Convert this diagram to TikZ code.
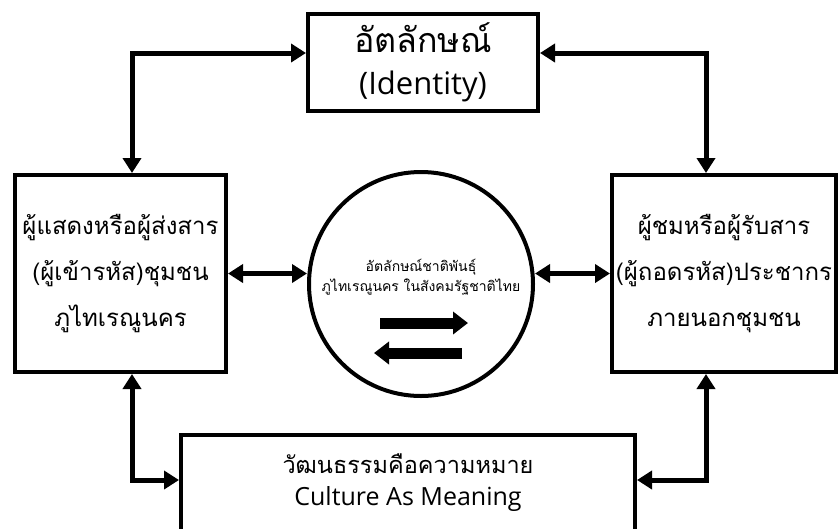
\documentclass[tikz,border=0pt]{standalone}
\usepackage{fontspec}
\setmainfont{Open Sans}
\newfontfamily\thai[Script=Thai]{Loma}
\usetikzlibrary{arrows.meta}

\begin{document}
\begin{tikzpicture}[x=1pt, y=-1pt]
\tikzstyle{box}=[draw, line width=4pt, inner sep=0pt, align=center]
\tikzstyle{conn}=[line width=5pt, {Triangle[length=15pt,width=18pt]}-{Triangle[length=15pt,width=18pt]}]
\tikzstyle{bigarrow}=[line width=11pt, -{Triangle[length=15pt,width=22pt]}]
\useasboundingbox (0,0) rectangle (840,528);
\clip (0,0) rectangle (840,528);
    \node [box, minimum width=230pt, minimum height=97pt,
           font=\fontsize{31}{42}\selectfont] (id) at (423,62.5)
        {{\thai\fontsize{34}{42}\selectfont อัตลักษณ์}\\(Identity)};
    \node [box, minimum width=211pt, minimum height=197pt,
           font=\thai\fontsize{24}{46}\selectfont] (lb) at (120.5,273.5)
        {ผู้แสดงหรือผู้ส่งสาร\\(ผู้เข้ารหัส)ชุมชน\\ภูไทเรณูนคร};
    \node [box, minimum width=224pt, minimum height=197pt,
           font=\thai\fontsize{24}{46}\selectfont] (rb) at (724,273.5)
        {ผู้ชมหรือผู้รับสาร\\(ผู้ถอดรหัส)ประชากร\\ภายนอกชุมชน};
    \node [box, minimum width=454pt, minimum height=96pt,
           font=\fontsize{25}{32}\selectfont] (bm) at (408,483)
        {{\thai\fontsize{23.5}{32}\selectfont วัฒนธรรมคือความหมาย}\\Culture As Meaning};
    \node [draw, circle, line width=4pt, minimum size=224pt, inner sep=0pt] (circ) at (421,284) {};
    \node [font=\thai\fontsize{14}{20}\selectfont, align=center] (ctext) at (421,277)
        {อัตลักษณ์ชาติพันธุ์\\ภูไทเรณูนคร ในสังคมรัฐชาติไทย};
    % arrows
    \coordinate (lx) at (132,0);
    \coordinate (rx) at (706,0);
    \coordinate (ty) at (0,53);
    \coordinate (by) at (0,480);
    \draw [conn] (lx |- lb.north) |- (ty -| id.west);
    \draw [conn] (rx |- rb.north) |- (ty -| id.east);
    \draw [conn] (lx |- lb.south) |- (by -| bm.west);
    \draw [conn] (rx |- rb.south) |- (by -| bm.east);
    \draw [conn] (lb.east) -- (lb.east -| circ.west);
    \draw [conn] (rb.west) -- (rb.west -| circ.east);
    \draw [bigarrow] (380,323) -- (468,323);
    \draw [bigarrow] (462,353) -- (374,353);
\end{tikzpicture}
\end{document}
